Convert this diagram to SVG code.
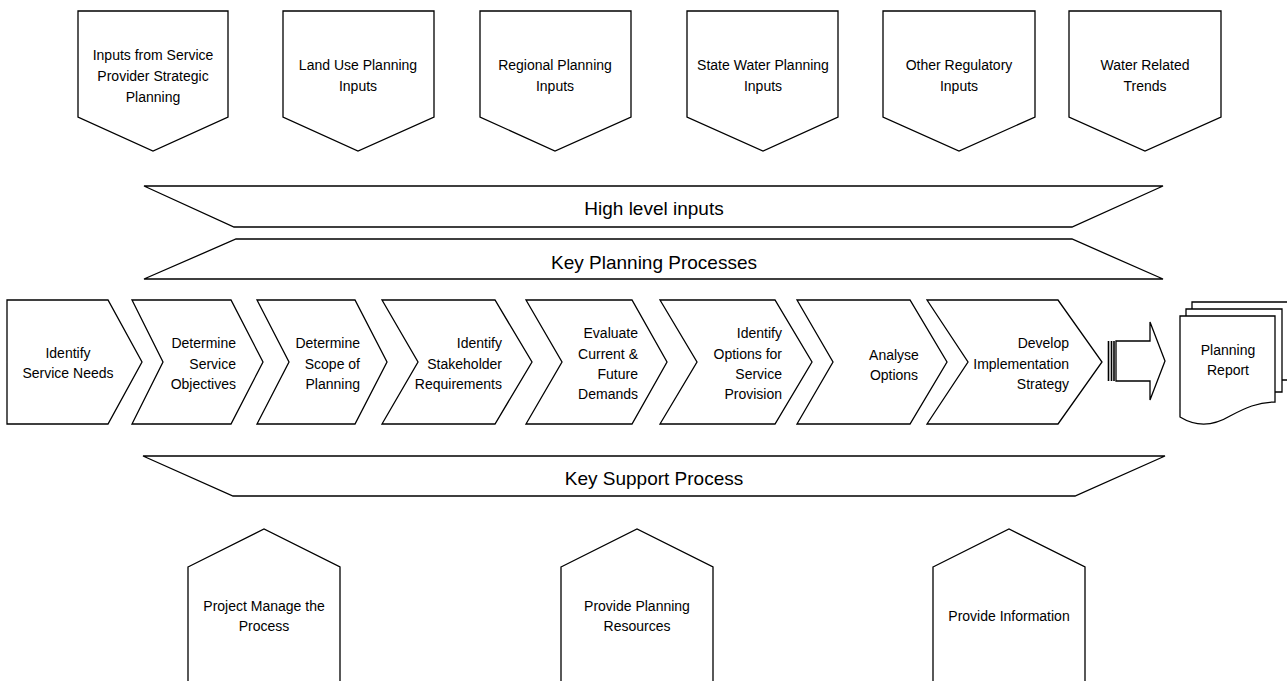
<svg xmlns="http://www.w3.org/2000/svg" width="1287" height="681" viewBox="0 0 1287 681">
<style>
.s{fill:#fff;stroke:#000;stroke-width:1.3;stroke-linejoin:miter}
.t{font-family:"Liberation Sans",Arial,sans-serif;font-size:14px;fill:#000}
.c{text-anchor:middle}
.e{text-anchor:end}
.b{font-family:"Liberation Sans",Arial,sans-serif;font-size:19px;fill:#000;text-anchor:middle}
</style>
<rect width="1287" height="681" fill="#fff"/>
<!-- top inputs -->
<g id="in1"><polygon class="s" points="78,11 228,11 228,117 153,151 78,117"/>
<text class="t c" x="153" y="60">Inputs from Service</text><text class="t c" x="153" y="81">Provider Strategic</text><text class="t c" x="153" y="102">Planning</text></g>
<g id="in2"><polygon class="s" points="283,11 434,11 434,117 358,151 283,117"/>
<text class="t c" x="358" y="70">Land Use Planning</text><text class="t c" x="358" y="91">Inputs</text></g>
<g id="in3"><polygon class="s" points="480,11 631,11 631,117 555,151 480,117"/>
<text class="t c" x="555" y="70">Regional Planning</text><text class="t c" x="555" y="91">Inputs</text></g>
<g id="in4"><polygon class="s" points="687,11 838,11 838,117 763,151 687,117"/>
<text class="t c" x="763" y="70">State Water Planning</text><text class="t c" x="763" y="91">Inputs</text></g>
<g id="in5"><polygon class="s" points="883,11 1035,11 1035,117 959,151 883,117"/>
<text class="t c" x="959" y="70">Other Regulatory</text><text class="t c" x="959" y="91">Inputs</text></g>
<g id="in6"><polygon class="s" points="1069,11 1221,11 1221,117 1145,151 1069,117"/>
<text class="t c" x="1145" y="70">Water Related</text><text class="t c" x="1145" y="91">Trends</text></g>
<!-- bands -->
<g id="band1"><polygon class="s" points="144,186 1163,186 1072,227 234,227"/>
<text class="b" x="654" y="215">High level inputs</text></g>
<g id="band2"><polygon class="s" points="236,239 1072,239 1163,279 144,279"/>
<text class="b" x="654" y="269">Key Planning Processes</text></g>
<g id="band3"><polygon class="s" points="143,456 1165,456 1075,496 233,496"/>
<text class="b" x="654" y="485">Key Support Process</text></g>
<!-- chevrons -->
<g id="p1"><polygon class="s" points="7,300 108,300 142,362 108,424 7,424"/>
<text class="t c" x="68" y="358">Identify</text><text class="t c" x="68" y="378">Service Needs</text></g>
<g id="p2"><polygon class="s" points="132,300 231,300 263,362 231,424 132,424 163,362"/>
<text class="t e" x="236" y="348">Determine</text><text class="t e" x="236" y="368.5">Service</text><text class="t e" x="236" y="389">Objectives</text></g>
<g id="p3"><polygon class="s" points="257,300 355,300 387,362 355,424 257,424 289,362"/>
<text class="t e" x="360" y="348">Determine</text><text class="t e" x="360" y="368.5">Scope of</text><text class="t e" x="360" y="389">Planning</text></g>
<g id="p4"><polygon class="s" points="382,300 495,300 532,362 495,424 382,424 418,362"/>
<text class="t e" x="502" y="348">Identify</text><text class="t e" x="502" y="368.5">Stakeholder</text><text class="t e" x="502" y="389">Requirements</text></g>
<g id="p5"><polygon class="s" points="526,300 632,300 667,362 632,424 526,424 562,362"/>
<text class="t e" x="638" y="338">Evaluate</text><text class="t e" x="638" y="358.5">Current &amp;</text><text class="t e" x="638" y="378.5">Future</text><text class="t e" x="638" y="399">Demands</text></g>
<g id="p6"><polygon class="s" points="660,300 775,300 812,362 775,424 660,424 697,362"/>
<text class="t e" x="782" y="338">Identify</text><text class="t e" x="782" y="358.5">Options for</text><text class="t e" x="782" y="378.5">Service</text><text class="t e" x="782" y="399">Provision</text></g>
<g id="p7"><polygon class="s" points="797,300 910,300 947,362 910,424 797,424 833,362"/>
<text class="t c" x="894" y="360">Analyse</text><text class="t c" x="894" y="380">Options</text></g>
<g id="p8"><polygon class="s" points="927,300 1058,300 1102,362 1058,424 927,424 968,362"/>
<text class="t e" x="1069" y="348">Develop</text><text class="t e" x="1069" y="368.5">Implementation</text><text class="t e" x="1069" y="389">Strategy</text></g>
<!-- connectors -->
<g id="connectors">
<polygon class="s" points="1116,341 1150,341 1150,322 1165,361 1150,400 1150,381 1116,381"/>
<line x1="1108.5" y1="341" x2="1108.5" y2="381" stroke="#000" stroke-width="1.6"/>
<line x1="1111.5" y1="341" x2="1111.5" y2="381" stroke="#000" stroke-width="1.6"/>
<line x1="1114" y1="341" x2="1114" y2="381" stroke="#000" stroke-width="1.6"/>
</g>
<!-- document -->
<g id="report">
<path class="s" d="M1192,302 H1290 V380 H1192 Z"/>
<path class="s" d="M1186,309 H1282 V392 H1186 Z"/>
<path class="s" d="M1180,316 H1275 V402 C1258,402 1245,408 1230,416 C1215,425 1198,428 1180,417 Z"/>
<text class="t c" x="1228" y="355">Planning</text><text class="t c" x="1228" y="375">Report</text>
</g>
<!-- support -->
<g id="s1"><polygon class="s" points="188,567 264,529 340,567 340,690 188,690"/>
<text class="t c" x="264" y="611">Project Manage the</text><text class="t c" x="264" y="631">Process</text></g>
<g id="s2"><polygon class="s" points="561,567 637,529 713,567 713,690 561,690"/>
<text class="t c" x="637" y="611">Provide Planning</text><text class="t c" x="637" y="631">Resources</text></g>
<g id="s3"><polygon class="s" points="933,567 1009,529 1085,567 1085,690 933,690"/>
<text class="t c" x="1009" y="621">Provide Information</text></g>
</svg>
